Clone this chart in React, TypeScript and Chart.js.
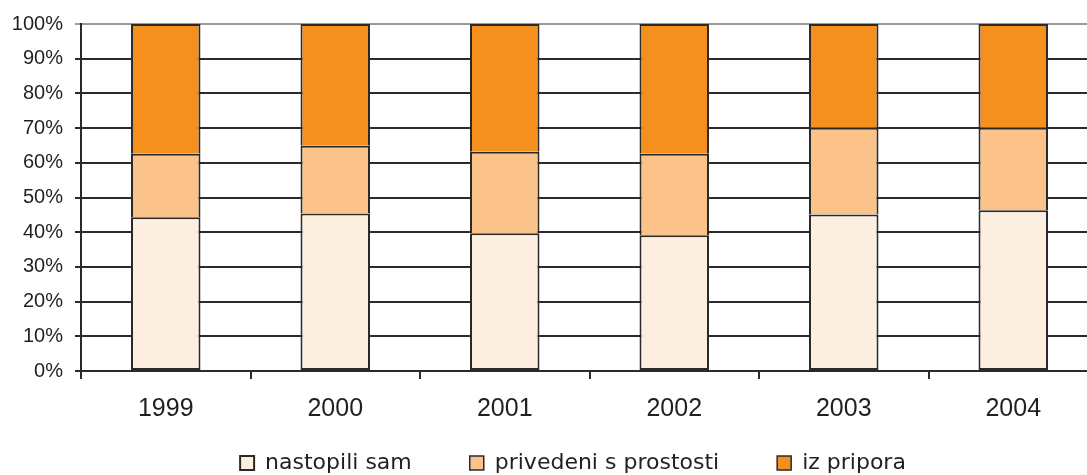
import React, { useEffect, useRef } from 'react';
import { Chart, registerables } from 'chart.js';

Chart.register(...registerables);

const years = ['1999', '2000', '2001', '2002', '2003', '2004'];
const nastopiliSam = [44.3, 45.4, 39.7, 39.1, 45.1, 46.3];
const privedeniSProstosti = [18.3, 19.5, 23.5, 23.5, 25.0, 23.8];
const izPripora = [37.4, 35.1, 36.8, 37.4, 29.9, 29.9];
const seriesNames = ['nastopili sam', 'privedeni s prostosti', 'iz pripora'];
const seriesColors = ['#fdefe0', '#fbc28a', '#f5901f'];
const yMax = 100;
const yStep = 10;

const INK = '#2b2a29';
const LEGEND_PAD = 58;
const LEGEND_FONT = 22;

// moves the legend row to where it sits in the original picture
const legendPlacer = {
  id: 'legendPlacer',
  afterLayout(chart: any) {
    const lg = chart.legend;
    if (!lg) return;
    const itemH = Math.max(LEGEND_FONT, 14);
    const dy = 463 - LEGEND_PAD - itemH / 2 - lg.top;
    lg.top += dy;
    lg.bottom += dy;
    const dx = 573 - (lg.left + lg.right) / 2;
    lg.left += dx;
    lg.right += dx;
  },
};

export default function App() {
  const ref = useRef<HTMLCanvasElement | null>(null);

  useEffect(() => {
    const canvas = ref.current;
    if (!canvas) return;
    const values = [nastopiliSam, privedeniSProstosti, izPripora];
    const chart = new Chart(canvas, {
      type: 'bar',
      data: {
        labels: years,
        datasets: seriesNames.map((name, i) => ({
          label: name,
          data: values[i],
          backgroundColor: seriesColors[i],
          borderColor: INK,
          borderWidth: { top: 2, left: 2, right: 2, bottom: i === 0 ? 2 : 0 },
          borderSkipped: false,
          barPercentage: 0.41,
          categoryPercentage: 1,
        })),
      },
      plugins: [legendPlacer],
      options: {
        responsive: false,
        animation: false,
        devicePixelRatio: 1,
        layout: { padding: { left: 12, right: 0, top: 23, bottom: 0 } },
        plugins: {
          tooltip: { enabled: false },
          legend: {
            position: 'bottom',
            labels: {
              font: { family: "'DejaVu Sans', sans-serif", size: LEGEND_FONT },
              color: '#231f20',
              boxWidth: 14,
              boxHeight: 14,
              padding: LEGEND_PAD,
            },
          },
        },
        scales: {
          x: {
            stacked: true,
            offset: true,
            afterFit: (s: any) => {
              s.height = 60;
            },
            grid: {
              display: true,
              drawOnChartArea: false,
              drawTicks: true,
              tickLength: 8,
              color: INK,
              lineWidth: 2,
            },
            border: { display: true, color: INK, width: 2 },
            ticks: {
              font: { family: "'Liberation Sans', Arial, sans-serif", size: 25 },
              color: '#231f20',
              padding: 15,
              maxRotation: 0,
            },
          },
          y: {
            stacked: true,
            min: 0,
            max: yMax,
            afterFit: (s: any) => {
              s.width = 69;
            },
            grid: {
              color: (ctx: any) => (ctx.tick && ctx.tick.value === yMax ? '#9a9a9a' : INK),
              lineWidth: 2,
              tickLength: 6,
              drawTicks: true,
            },
            border: { display: true, color: INK, width: 2 },
            ticks: {
              stepSize: yStep,
              padding: 12,
              font: { family: "'Liberation Sans', Arial, sans-serif", size: 20 },
              color: '#231f20',
              callback: (v: any) => v + '%',
            },
          },
        },
      },
    });
    return () => chart.destroy();
  }, []);

  return (
    <div
      style={{
        position: 'fixed',
        left: 0,
        top: 0,
        width: 1087,
        height: 475,
        overflow: 'hidden',
        background: '#ffffff',
      }}
    >
      <canvas ref={ref} width={1098} height={521} style={{ display: 'block' }} />
    </div>
  );
}
